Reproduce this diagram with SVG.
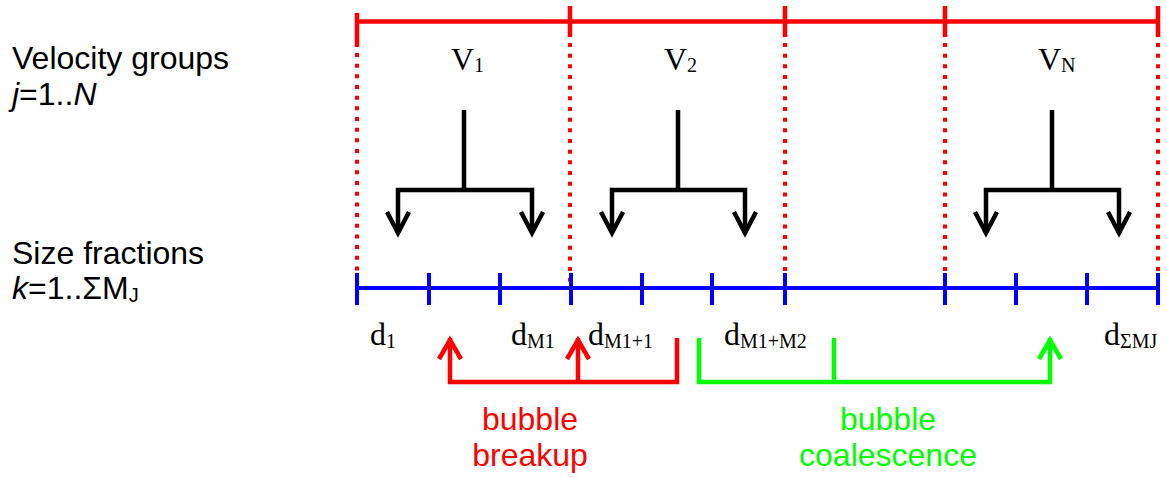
<svg xmlns="http://www.w3.org/2000/svg" width="1167" height="478" viewBox="0 0 1167 478">
<style>
.sans{font-family:"Liberation Sans",Arial,sans-serif;font-size:32px;fill:#000}
.serif{font-family:"Liberation Serif","Times New Roman",serif;font-size:32px;fill:#000}
.sub{font-size:20px}
.red{stroke:#FF0000;stroke-width:4.5;fill:none}
.dot{stroke:#FF0000;stroke-width:4;fill:none;stroke-dasharray:4 6.67}
.blue{stroke:#0000FF;stroke-width:4;fill:none}
.blk{stroke:#000;stroke-width:4.5;fill:none;stroke-linejoin:miter}
.grn{stroke:#00FF00;stroke-width:4.5;fill:none}
</style>
<rect width="1167" height="478" fill="#fff"/>
<g id="labels-left">
<text class="sans" x="12" y="69">Velocity groups</text>
<text class="sans" x="12" y="105"><tspan font-style="italic">j</tspan>=1..<tspan font-style="italic">N</tspan></text>
<text class="sans" x="12" y="264">Size fractions</text>
<text class="sans" x="12" y="299"><tspan font-style="italic">k</tspan>=1..ΣM<tspan class="sub" dy="3">J</tspan></text>
</g>
<g id="velocity-axis">
<line class="red" x1="357" y1="21.5" x2="1160" y2="21.5"/>
<line class="red" x1="357" y1="13" x2="357" y2="47"/>
<line class="red" x1="570" y1="6" x2="570" y2="37"/>
<line class="red" x1="785" y1="6" x2="785" y2="37"/>
<line class="red" x1="945" y1="6" x2="945" y2="37"/>
<line class="red" x1="1158" y1="6" x2="1158" y2="37"/>
<line class="dot" x1="357" y1="53" x2="357" y2="290"/>
<line class="dot" x1="570" y1="43" x2="570" y2="290"/>
<line class="dot" x1="785" y1="43" x2="785" y2="290"/>
<line class="dot" x1="945" y1="43" x2="945" y2="290"/>
<line class="dot" x1="1158" y1="43" x2="1158" y2="290"/>
</g>
<g id="velocity-labels">
<text class="serif" x="451" y="70">V<tspan class="sub" dy="2">1</tspan></text>
<text class="serif" x="664" y="70">V<tspan class="sub" dy="2">2</tspan></text>
<text class="serif" x="1038" y="70">V<tspan class="sub" dy="2">N</tspan></text>
</g>
<g id="size-axis">
<line class="blue" x1="357" y1="288" x2="1160" y2="288"/>
<g class="blue">
<line x1="357" y1="273" x2="357" y2="305"/>
<line x1="429" y1="273" x2="429" y2="305"/>
<line x1="500" y1="273" x2="500" y2="305"/>
<line x1="571" y1="273" x2="571" y2="305"/>
<line x1="642" y1="273" x2="642" y2="305"/>
<line x1="712" y1="273" x2="712" y2="305"/>
<line x1="785" y1="273" x2="785" y2="305"/>
<line x1="945" y1="273" x2="945" y2="305"/>
<line x1="1016" y1="273" x2="1016" y2="305"/>
<line x1="1087" y1="273" x2="1087" y2="305"/>
<line x1="1158" y1="273" x2="1158" y2="305"/>
</g>
</g>
<g id="connectors">
<g class="blk">
<path d="M464 110V190M398 233V190H532V233"/>
<path d="M387 212L398 233L409 212M521 212L532 233L543 212"/>
<path d="M678 110V190M612 233V190H745V233"/>
<path d="M601 212L612 233L623 212M734 212L745 233L756 212"/>
<path d="M1052 110V190M986 233V190H1119V233"/>
<path d="M975 212L986 233L997 212M1108 212L1119 233L1130 212"/>
</g>
<g class="red">
<path d="M450 338V382H677V338M578 382V338"/>
<path d="M439 359L450 340L461 359M567 359L578 340L589 359"/>
</g>
<g class="grn">
<path d="M699 338V382H1050V338M834 382V338"/>
<path d="M1039 359L1050 340L1061 359"/>
</g>
</g>
<g id="size-labels">
<text class="serif" x="370" y="345">d<tspan class="sub" dy="3">1</tspan></text>
<text class="serif" x="511" y="345">d<tspan class="sub" dy="3">M1</tspan></text>
<text class="serif" x="588" y="345">d<tspan class="sub" dy="3">M1+1</tspan></text>
<text class="serif" x="724" y="345">d<tspan class="sub" dy="3">M1+M2</tspan></text>
<text class="serif" x="1104" y="345">d<tspan class="sub" dy="3">ΣMJ</tspan></text>
</g>
<g id="process-labels">
<text class="sans" x="530" y="430" text-anchor="middle" style="fill:#FF0000">bubble</text>
<text class="sans" x="530" y="466" text-anchor="middle" style="fill:#FF0000">breakup</text>
<text class="sans" x="888" y="430" text-anchor="middle" style="fill:#00FF00">bubble</text>
<text class="sans" x="888" y="466" text-anchor="middle" style="fill:#00FF00">coalescence</text>
</g>
</svg>
